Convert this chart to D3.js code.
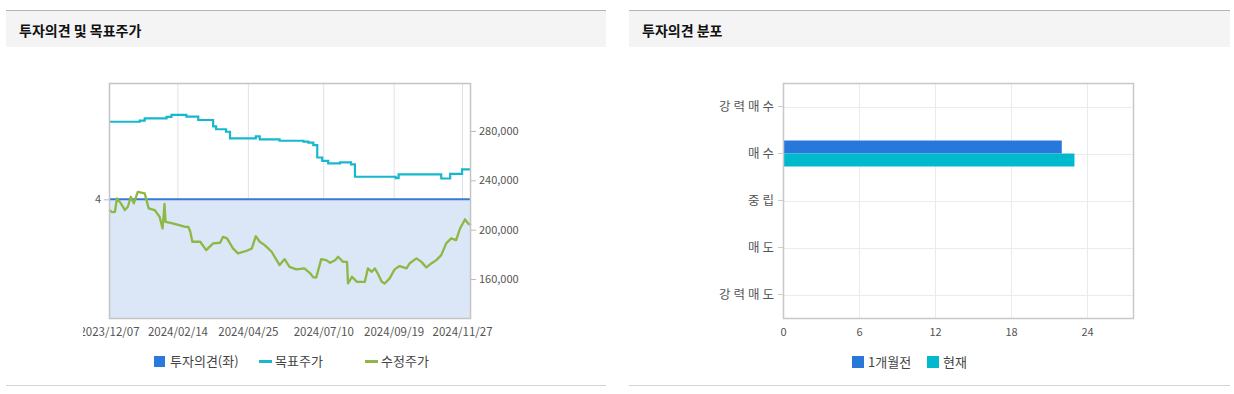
<!DOCTYPE html>
<html>
<head>
<meta charset="utf-8">
<script src="https://cdn.jsdelivr.net/npm/d3@7"></script>
<style>
  body { margin: 0; background: #fff; font-family: "Noto Sans CJK KR", "Noto Sans", sans-serif; }
  svg text { font-family: "Noto Sans CJK KR", "Noto Sans", sans-serif; }
</style>
</head>
<body>
<svg id="chart" width="1234" height="394"></svg>
<script>
// ---- data ----
const opinionDates = ["2023-12-07", "2024-12-06"]
const opinionValues = [4, 4]

const targetDates = ["2023-12-07","2024-01-07","2024-01-12","2024-02-03","2024-02-08","2024-02-23","2024-03-06","2024-03-21","2024-03-24","2024-04-03","2024-04-07","2024-05-03","2024-05-07","2024-05-27","2024-06-20","2024-06-25","2024-06-30","2024-07-04","2024-07-09","2024-07-15","2024-07-27","2024-08-07","2024-08-11","2024-09-21","2024-09-24","2024-11-06","2024-11-15","2024-11-27","2024-12-06"]
const targetValues = [287500,288400,290200,291500,293000,291600,288900,283800,281400,279400,274000,275700,273200,272100,271300,270500,268600,258500,255800,253800,254600,253000,242900,241800,244900,241500,245300,248900,248900]

const priceDates = ["2023-12-07","2023-12-10","2023-12-13","2023-12-15","2023-12-19","2023-12-23","2023-12-26","2023-12-29","2024-01-01","2024-01-05","2024-01-12","2024-01-16","2024-01-22","2024-01-27","2024-01-30","2024-02-01","2024-02-02","2024-02-07","2024-02-13","2024-02-22","2024-02-25","2024-02-27","2024-02-29","2024-03-08","2024-03-14","2024-03-21","2024-03-28","2024-03-31","2024-04-04","2024-04-10","2024-04-15","2024-04-24","2024-04-29","2024-05-03","2024-05-07","2024-05-12","2024-05-19","2024-05-27","2024-06-01","2024-06-06","2024-06-13","2024-06-21","2024-06-27","2024-06-30","2024-07-03","2024-07-08","2024-07-13","2024-07-17","2024-07-22","2024-07-25","2024-07-30","2024-08-03","2024-08-04","2024-08-08","2024-08-13","2024-08-21","2024-08-24","2024-08-28","2024-08-31","2024-09-03","2024-09-07","2024-09-10","2024-09-15","2024-09-20","2024-09-25","2024-10-02","2024-10-05","2024-10-12","2024-10-17","2024-10-22","2024-10-27","2024-11-01","2024-11-06","2024-11-11","2024-11-16","2024-11-21","2024-11-25","2024-11-30","2024-12-03","2024-12-06"]
const priceValues = [215900,214300,214500,225400,221300,215900,218600,226700,221300,230700,229400,217300,215900,210500,201000,220800,206400,205600,204300,202300,202300,198300,190200,190200,183400,188900,189400,194200,192900,184800,180800,182900,184800,194800,190200,187500,182100,171300,176100,169900,167800,168600,164500,161300,161300,176100,175300,173100,175300,178000,173900,173900,156400,161800,157700,157700,168600,165800,168600,164500,157700,156400,160500,167800,170500,168600,172600,176700,173900,169400,172600,175300,179400,188900,192900,191600,201000,208400,205100,203700]

const dateTicks = ["2023-12-07","2024-02-14","2024-04-25","2024-07-10","2024-09-19","2024-11-27"]
const priceTicks = [160000, 200000, 240000, 280000]

const opinionCats = ["강력매수", "매수", "중립", "매도", "강력매도"]
const distSeries = ["1개월전", "현재"]
const distMonthAgo = [0, 22, 0, 0, 0]
const distNow = [0, 23, 0, 0, 0]
const distTicks = [0, 6, 12, 18, 24]

// ---- setup ----
const parse = d3.timeParse("%Y-%m-%d")
const fmtDate = d3.timeFormat("%Y/%m/%d")
const svg = d3.select("#chart")

const BLUE = "#3a78d8", CYAN = "#17b8cd", GREEN = "#8cb843"

// panels
function panel(x0, x1, title) {
  svg.append("rect").attr("x", x0).attr("y", 10).attr("width", x1 - x0).attr("height", 37).attr("fill", "#f4f4f4")
  svg.append("line").attr("x1", x0).attr("x2", x1).attr("y1", 10.5).attr("y2", 10.5).attr("stroke", "#b5b5b5")
  svg.append("line").attr("x1", x0).attr("x2", x1).attr("y1", 385.5).attr("y2", 385.5).attr("stroke", "#d4d4d4")
  svg.append("text").attr("x", x0 + 13).attr("y", 36)
    .style("font-size", "14px").style("font-weight", "bold").attr("fill", "#111").text(title)
}
panel(6, 606, "투자의견 및 목표주가")
panel(629, 1230, "투자의견 분포")

// ---- left chart ----
const L = { left: 109, right: 471, top: 83, bottom: 318 }

const x = d3.scaleTime()
  .domain([parse("2023-12-07"), parse("2024-12-06")])
  .range([L.left, L.right])
const yPrice = d3.scaleLinear().domain([128400, 318900]).range([L.bottom, L.top])
const yOpinion = d3.scaleLinear().domain([2.98, 5]).range([L.bottom, L.top])

const gL = svg.append("g")

// vertical grid
gL.selectAll(".vgrid").data(dateTicks).enter().append("line")
  .attr("x1", d => x(parse(d)) + 0.5).attr("x2", d => x(parse(d)) + 0.5)
  .attr("y1", L.top).attr("y2", L.bottom)
  .attr("stroke", "#dde2ea")

// opinion area + line
const opinion = opinionDates.map((d, i) => ({ date: parse(d), v: opinionValues[i] }))
gL.append("path").datum(opinion)
  .attr("d", d3.area().x(d => x(d.date)).y0(L.bottom).y1(d => yOpinion(d.v)))
  .attr("fill", "#dbe6f7")
gL.append("path").datum(opinion)
  .attr("d", d3.line().x(d => x(d.date)).y(d => yOpinion(d.v)))
  .attr("fill", "none").attr("stroke", BLUE).attr("stroke-width", 2)

// target price
const target = targetDates.map((d, i) => ({ date: parse(d), v: targetValues[i] }))
gL.append("path").datum(target)
  .attr("d", d3.line().curve(d3.curveStepAfter).x(d => x(d.date)).y(d => yPrice(d.v)))
  .attr("fill", "none").attr("stroke", CYAN).attr("stroke-width", 2.2)

// adjusted price
const price = priceDates.map((d, i) => ({ date: parse(d), v: priceValues[i] }))
gL.append("path").datum(price)
  .attr("d", d3.line().x(d => x(d.date)).y(d => yPrice(d.v)))
  .attr("fill", "none").attr("stroke", GREEN).attr("stroke-width", 2.3).attr("stroke-linejoin", "round")

// frame
gL.append("rect").attr("x", L.left + 0.5).attr("y", L.top + 0.5)
  .attr("width", L.right - L.left - 1).attr("height", L.bottom - L.top)
  .attr("fill", "none").attr("stroke", "#c4c4c4").attr("stroke-width", 1.5)

// axes (first date label is cut at the left like the original)
svg.append("clipPath").attr("id", "xclip").append("rect")
  .attr("x", 83).attr("y", -10).attr("width", 500).attr("height", 40)

const xAxis = gL.append("g")
  .attr("transform", `translate(0, ${L.bottom})`)
  .attr("clip-path", "url(#xclip)")
  .call(d3.axisBottom(x).tickValues(dateTicks.map(parse)).tickFormat(fmtDate).tickSize(0).tickPadding(10))
xAxis.select(".domain").remove()
xAxis.selectAll("text").style("font-size", "11.5px").attr("fill", "#555")

const rAxis = gL.append("g")
  .attr("transform", `translate(${L.right}, 0)`)
  .call(d3.axisRight(yPrice).tickValues(priceTicks).tickFormat(d3.format(",")).tickSize(5).tickPadding(3))
rAxis.select(".domain").remove()
rAxis.selectAll("line").attr("stroke", "#bbb")
rAxis.selectAll("text").style("font-size", "11px").attr("fill", "#555")

const lAxis = gL.append("g")
  .attr("transform", `translate(${L.left}, 0)`)
  .call(d3.axisLeft(yOpinion).tickValues([4]).tickFormat(d3.format("d")).tickSize(5).tickPadding(3))
lAxis.select(".domain").remove()
lAxis.selectAll("line").attr("stroke", "#bbb")
lAxis.selectAll("text").style("font-size", "11px").attr("fill", "#555")

// legend left
const legL = svg.append("g").style("font-size", "13px").attr("fill", "#444")
legL.append("rect").attr("x", 154).attr("y", 356).attr("width", 11).attr("height", 11).attr("fill", "#2b79dc")
legL.append("text").attr("x", 170).attr("y", 366).text("투자의견(좌)")
legL.append("line").attr("x1", 259).attr("x2", 272).attr("y1", 361.5).attr("y2", 361.5).attr("stroke", CYAN).attr("stroke-width", 3)
legL.append("text").attr("x", 275).attr("y", 366).text("목표주가")
legL.append("line").attr("x1", 365).attr("x2", 378).attr("y1", 361.5).attr("y2", 361.5).attr("stroke", GREEN).attr("stroke-width", 3)
legL.append("text").attr("x", 381).attr("y", 366).text("수정주가")

// ---- right chart ----
const R = { left: 783, right: 1134, top: 83, bottom: 318 }

const xd = d3.scaleLinear().domain([0, 27.7]).range([R.left, R.right])
const yc = d3.scaleBand().domain(opinionCats).range([R.top, R.bottom])
const ys = d3.scaleBand().domain(distSeries).range([10.5, 36.5])
const distColor = d3.scaleOrdinal().domain(distSeries).range(["#2878dc", "#00b9cc"])

const gR = svg.append("g")

gR.selectAll(".vg").data(distTicks.slice(1)).enter().append("line")
  .attr("x1", d => Math.round(xd(d)) + 0.5).attr("x2", d => Math.round(xd(d)) + 0.5)
  .attr("y1", R.top).attr("y2", R.bottom).attr("stroke", "#ebebeb")
gR.selectAll(".hg").data(opinionCats).enter().append("line")
  .attr("x1", R.left).attr("x2", R.right)
  .attr("y1", d => Math.round(yc(d) + yc.bandwidth() / 2) + 0.5)
  .attr("y2", d => Math.round(yc(d) + yc.bandwidth() / 2) + 0.5)
  .attr("stroke", "#ebebeb")

const rows = opinionCats.map((c, i) => ({ cat: c, vals: [distMonthAgo[i], distNow[i]] }))
gR.selectAll(".row").data(rows).enter().append("g")
  .attr("transform", d => `translate(0, ${yc(d.cat)})`)
  .selectAll("rect").data(d => d.vals.map((v, j) => ({ s: distSeries[j], v })))
  .enter().append("rect")
  .attr("x", xd(0))
  .attr("y", d => ys(d.s))
  .attr("width", d => xd(d.v) - xd(0))
  .attr("height", ys.bandwidth())
  .attr("fill", d => distColor(d.s))

gR.append("rect").attr("x", R.left + 0.5).attr("y", R.top + 0.5)
  .attr("width", R.right - R.left - 1).attr("height", R.bottom - R.top)
  .attr("fill", "none").attr("stroke", "#c8c8c8").attr("stroke-width", 1.5)

const cAxis = gR.append("g").attr("transform", `translate(${R.left}, 0)`)
  .call(d3.axisLeft(yc).tickSize(5).tickPadding(4))
cAxis.select(".domain").remove()
cAxis.selectAll("line").attr("stroke", "#ccc")
cAxis.selectAll("text").style("font-size", "12.5px").style("letter-spacing", "3px").attr("dx", "3px").attr("fill", "#555")

const dAxis = gR.append("g").attr("transform", `translate(0, ${R.bottom})`)
  .call(d3.axisBottom(xd).tickValues(distTicks).tickSize(0).tickPadding(10))
dAxis.select(".domain").remove()
dAxis.selectAll("text").style("font-size", "11px").attr("fill", "#555")

// legend right
const legR = svg.append("g").style("font-size", "13px").attr("fill", "#444")
distSeries.forEach((s, i) => {
  const lx = [852, 927][i]
  legR.append("rect").attr("x", lx).attr("y", 356).attr("width", 12).attr("height", 12).attr("fill", distColor(s))
  legR.append("text").attr("x", lx + 16).attr("y", 367).text(s)
})
</script>
</body>
</html>
